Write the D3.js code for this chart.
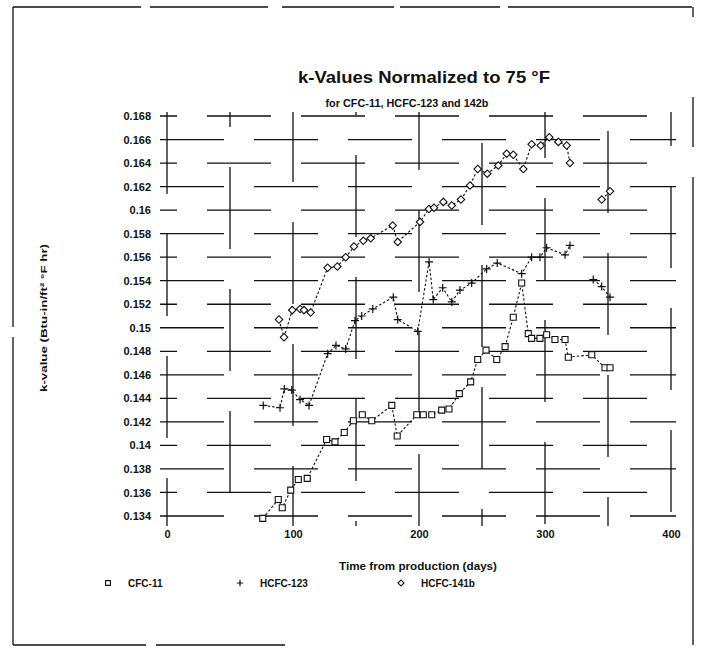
<!DOCTYPE html>
<html>
<head>
<meta charset="utf-8">
<script src="https://cdn.jsdelivr.net/npm/d3@7"></script>
<style>
  body { margin: 0; background: #fff; }
  svg { display: block; font-family: "Liberation Sans", Arial, sans-serif; }
</style>
</head>
<body>
<svg id="chart" width="705" height="648"></svg>
<script>
// ---- text ----
const chartTitle = "k-Values Normalized to 75 °F";
const chartSubtitle = "for CFC-11, HCFC-123 and 142b";
const xAxisTitle = "Time from production (days)";
const yAxisTitle = "k-value (Btu-in/ft² °F hr)";
const seriesNames = ["CFC-11", "HCFC-123", "HCFC-141b"];

// ---- axis ticks ----
const xTicks = [0, 100, 200, 300, 400];
const yTicks = [0.134, 0.136, 0.138, 0.14, 0.142, 0.144, 0.146, 0.148, 0.15,
                0.152, 0.154, 0.156, 0.158, 0.16, 0.162, 0.164, 0.166, 0.168];
const gridDays = [0, 50, 100, 150, 200, 250, 300, 350, 400];

// ---- CFC-11 (squares) ----
const cfc11Days = [76, 88.3, 91.5, 98.2, 104.2, 111.3, 126.7, 133.3, 140.7, 147.9,
                   155, 162.5, 178.4, 182.7, 198.2, 203.4, 210.1, 218, 223.8, 232,
                   241, 246.6, 253.2, 261.7, 268.3, 274.8, 281.5, 286.7, 289.4, 296,
                   301.3, 307.9, 315.9, 318.5, 337.1, 347.6, 351.6];
const cfc11K = [0.1338, 0.1354, 0.1347, 0.1362, 0.1371, 0.1372, 0.1405, 0.1403, 0.1411, 0.1421,
                0.1426, 0.1421, 0.1434, 0.1408, 0.1426, 0.1426, 0.1426, 0.1430, 0.1431, 0.1444,
                0.1454, 0.1473, 0.1481, 0.1473, 0.1484, 0.1509, 0.1538, 0.1495, 0.1491, 0.1491,
                0.1494, 0.1490, 0.1490, 0.1475, 0.1477, 0.1466, 0.1466];

// ---- HCFC-123 (plus signs); null marks a gap in the record ----
const hcfc123Days = [76.4, 89.7, 93.1, 99, 105.6, 112.7, 127.5, 134.1, 141.8, 149.2,
                     154.5, 163.3, 179.6, 183.1, 199, 208, 211.3, 218.8, 226, 232.5,
                     241.8, 253.7, 262.1, 281.5, 289.4, 296, 301.3, 315.9, 319.8, 329,
                     338.3, 345, 351.6];
const hcfc123K = [0.1434, 0.1432, 0.1448, 0.1447, 0.1439, 0.1434, 0.1478, 0.1485, 0.1482, 0.1506,
                  0.1510, 0.1516, 0.1526, 0.1507, 0.1497, 0.1556, 0.1524, 0.1534, 0.1522, 0.1532,
                  0.1538, 0.1550, 0.1555, 0.1546, 0.1560, 0.1560, 0.1568, 0.1562, 0.1570, null,
                  0.1541, 0.1535, 0.1526];

// ---- HCFC-141b (diamonds); null marks a gap in the record ----
const hcfc141bDays = [88.9, 92.9, 99.4, 105.6, 108.7, 114, 127.5, 135.2, 141.8, 148.4,
                      155.8, 161.7, 179.1, 183.1, 200.8, 207.9, 211.9, 219.3, 226, 233.3,
                      240.5, 246.6, 254.2, 262.9, 269.6, 274.8, 282.8, 289.4, 296.6, 303.4,
                      310.6, 317.2, 319.8, 330, 345, 351.6];
const hcfc141bK = [0.1507, 0.1492, 0.1515, 0.1516, 0.1515, 0.1513, 0.1551, 0.1552, 0.1560, 0.1569,
                   0.1574, 0.1576, 0.1587, 0.1573, 0.1590, 0.1601, 0.1602, 0.1607, 0.1604, 0.1609,
                   0.1621, 0.1635, 0.1631, 0.1638, 0.1648, 0.1647, 0.1635, 0.1656, 0.1655, 0.1662,
                   0.1658, 0.1655, 0.1640, null, 0.1609, 0.1616];

// ---- layout ----
const svg = d3.select("#chart");
const x = d3.scaleLinear().domain([0, 400]).range([167, 671]);
const y = d3.scaleLinear().domain([0.134, 0.168]).range([516, 116]);
const ink = "#111";

// page frame (drawn in broken strokes, as on the printed sheet)
const frame = svg.append("g").attr("fill", "none").attr("stroke", ink).attr("stroke-width", 1.3);
frame.append("line").attr("x1", 13).attr("y1", 7).attr("x2", 13).attr("y2", 645)
  .attr("stroke-dasharray", "320 10 400");
frame.append("line").attr("x1", 13).attr("y1", 7).attr("x2", 692).attr("y2", 7)
  .attr("stroke-dasharray", "128 9 118 14 112 6 100 8 200");
frame.append("line").attr("x1", 13).attr("y1", 645).attr("x2", 285).attr("y2", 645)
  .attr("stroke-dasharray", "133 10 130");
frame.append("line").attr("x1", 693).attr("y1", 7).attr("x2", 693).attr("y2", 645)
  .attr("stroke-dasharray", "10 80 50 30 470");

// broken grid behind the data
const grid = svg.append("g").attr("stroke", ink).attr("stroke-width", 1.3).attr("fill", "none");
grid.selectAll("line.h").data(yTicks).join("line")
  .attr("class", "h")
  .attr("x1", 160).attr("x2", 676)
  .attr("y1", d => y(d)).attr("y2", d => y(d))
  .attr("stroke-dasharray", "64 30")
  .attr("stroke-dashoffset", (d, i) => (i * 47) % 94);
grid.selectAll("line.v").data(gridDays).join("line")
  .attr("class", "v")
  .attr("x1", d => x(d)).attr("x2", d => x(d))
  .attr("y1", 112).attr("y2", 526)
  .attr("stroke-dasharray", "82 40")
  .attr("stroke-dashoffset", (d, i) => (i * 67) % 122);

// axes (labels only)
const fmt = d => String(+d.toFixed(3));
const styleTicks = g => g.selectAll("text").attr("font-size", 11).attr("font-weight", "bold")
  .attr("fill", ink).attr("font-family", "Liberation Sans, Arial, sans-serif");
svg.append("g").attr("transform", "translate(151,0)")
  .call(d3.axisLeft(y).tickValues(yTicks).tickFormat(fmt).tickSize(0).tickPadding(0))
  .call(g => g.select(".domain").remove())
  .call(styleTicks);
svg.append("g").attr("transform", "translate(0,530)")
  .call(d3.axisBottom(x).tickValues(xTicks).tickFormat(d3.format("d")).tickSize(0).tickPadding(0))
  .call(g => g.select(".domain").remove())
  .call(styleTicks);

// titles
const addText = (txt, px, py, size, len) => svg.append("text")
  .attr("x", px).attr("y", py).attr("text-anchor", "middle")
  .attr("font-size", size).attr("font-weight", "bold").attr("fill", ink)
  .attr("textLength", len).attr("lengthAdjust", "spacingAndGlyphs").text(txt);
addText(chartTitle, 424, 83, 17, 252);
addText(chartSubtitle, 407, 107, 10.5, 163);
addText(xAxisTitle, 418, 570, 10.5, 158);
svg.append("text").attr("transform", "translate(47,318) rotate(-90)").attr("text-anchor", "middle")
  .attr("font-size", 9.5).attr("font-weight", "bold").attr("fill", ink)
  .attr("textLength", 148).attr("lengthAdjust", "spacingAndGlyphs").text(yAxisTitle);

// series
const toPoints = (days, ks) => days.map((d, i) => ({ day: d, k: ks[i] }));
const series = [
  { name: seriesNames[0], pts: toPoints(cfc11Days, cfc11K), marker: "square" },
  { name: seriesNames[1], pts: toPoints(hcfc123Days, hcfc123K), marker: "plus" },
  { name: seriesNames[2], pts: toPoints(hcfc141bDays, hcfc141bK), marker: "diamond" }
];

const line = d3.line().defined(p => p.k !== null).x(p => x(p.day)).y(p => y(p.k));

function drawMarker(g, s, cx, cy, scale) {
  if (s.marker === "plus") {
    const r = 4 * scale;
    g.append("path").attr("d", `M${cx - r},${cy}H${cx + r}M${cx},${cy - r}V${cy + r}`)
      .attr("stroke", ink).attr("stroke-width", 1.2).attr("fill", "none");
  } else {
    const rot = s.marker === "diamond" ? 45 : 0;
    const size = s.marker === "diamond" ? 28 : 36;
    g.append("path").attr("transform", `translate(${cx},${cy}) rotate(${rot})`)
      .attr("d", d3.symbol().type(d3.symbolSquare).size(size * scale * scale)())
      .attr("fill", "#fff").attr("stroke", ink).attr("stroke-width", 1.1);
  }
}

series.forEach(s => {
  const g = svg.append("g");
  g.append("path").datum(s.pts).attr("d", line)
    .attr("fill", "none").attr("stroke", ink).attr("stroke-width", 1.1)
    .attr("stroke-dasharray", "2.5 2");
  s.pts.filter(p => p.k !== null).forEach(p => drawMarker(g, s, x(p.day), y(p.k), 1));
});

// legend
const legendX = [108, 240, 401];
series.forEach((s, i) => {
  const g = svg.append("g");
  drawMarker(g, s, legendX[i], 583, 0.8);
  g.append("text").attr("x", legendX[i] + 20).attr("y", 587)
    .attr("font-size", 10).attr("font-weight", "bold").attr("fill", ink).text(s.name);
});
</script>
</body>
</html>
